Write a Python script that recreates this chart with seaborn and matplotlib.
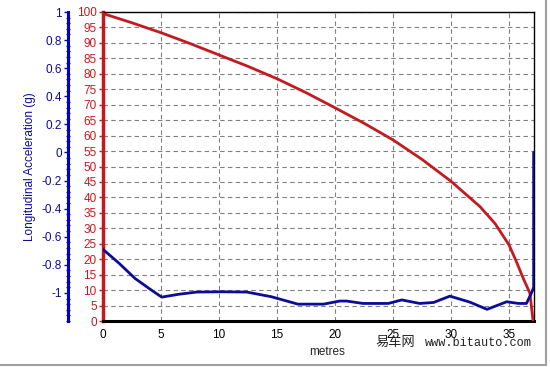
import matplotlib
matplotlib.use("Agg")
import matplotlib.pyplot as plt
from matplotlib.lines import Line2D
from matplotlib.ticker import MultipleLocator, AutoMinorLocator
import pandas as pd
import seaborn as sns

# speed trace (red, left inner axis 0-100)
speed_dist = [0, 2.5, 5, 7.5, 10, 12.5, 15, 17.5, 20, 22.5, 25, 27.5, 30,
              32.5, 33.8, 35, 35.6, 36.2, 36.8, 37.07]
speed = [99.5, 96.5, 93.3, 89.8, 86.1, 82.4, 78.4, 73.9, 69, 64, 58.6, 52.3,
         45.2, 37, 31.5, 24.6, 19.5, 14, 9, 0]

# longitudinal acceleration trace (blue, outer axis in g)
acc_dist = [0, 1.4, 2.76, 4.0, 5.06, 6.5, 8.07, 10.2, 12.4, 14.5, 16.8, 19.0,
            20.4, 21.0, 22.4, 24.6, 25.75, 27.3, 28.5, 29.9, 31.6, 33.1, 34.8,
            35.8, 36.5, 36.95, 37.12, 37.12]
acc_g = [-0.69, -0.79, -0.897, -0.97, -1.03, -1.01, -0.994, -0.992, -0.994,
         -1.027, -1.08, -1.08, -1.058, -1.058, -1.075, -1.075, -1.05, -1.075,
         -1.068, -1.023, -1.065, -1.117, -1.063, -1.075, -1.075, -0.997, -0.96,
         0.0]

speed_df = pd.DataFrame({"metres": speed_dist, "speed": speed})
acc_df = pd.DataFrame({"metres": acc_dist, "acc": acc_g})

sns.set_style("white")
plt.rcParams["font.family"] = ["Liberation Sans", "DejaVu Sans"]

red = "#c41a1f"
navy = "#0c0c96"
blue_spine = "#0000c8"

fig = plt.figure(figsize=(5.5, 3.67), dpi=100)
ax = fig.add_axes([103 / 550, 1 - 321 / 367, 431 / 550, 309 / 367])

sns.lineplot(data=speed_df, x="metres", y="speed", ax=ax, color=red,
             linewidth=2, estimator=None, sort=False, zorder=3)

ax.set_xlim(0, 37.15)
ax.set_ylim(0, 100)
ax.xaxis.set_major_locator(MultipleLocator(5))
ax.xaxis.set_minor_locator(MultipleLocator(1))
ax.yaxis.set_major_locator(MultipleLocator(5))
ax.grid(True, which="major", color="#808080", linestyle=(0, (4, 3)), linewidth=0.8)
ax.set_axisbelow(True)

ax.tick_params(axis="y", colors=red, labelsize=8.5, length=3, width=1,
               direction="out", pad=1.5)
ax.tick_params(axis="x", colors="black", labelcolor="black", labelsize=8.5,
               length=3.5, width=1, direction="out", pad=2)
ax.tick_params(axis="x", which="minor", length=2.5, width=1, direction="out",
               colors="black")
ax.set_xlabel("metres", fontsize=8.5, labelpad=1)
ax.xaxis.set_label_coords(0.52, -0.08)
ax.set_ylabel("")

for side in ["top", "right"]:
    ax.spines[side].set_visible(True)
    ax.spines[side].set_color("black")
    ax.spines[side].set_linewidth(1)
ax.spines["bottom"].set_color("black")
ax.spines["bottom"].set_linewidth(2.2)
ax.spines["left"].set_color(red)
ax.spines["left"].set_linewidth(2.5)

# outer acceleration axis
ax2 = ax.twinx()
sns.lineplot(data=acc_df, x="metres", y="acc", ax=ax2, color=navy,
             linewidth=2, estimator=None, sort=False, zorder=4)
ax2.set_ylim(-1.2, 1.0)
ax2.set_xlim(0, 37.15)
ax2.yaxis.set_label_position("left")
ax2.yaxis.set_ticks_position("left")
ax2.spines["left"].set_visible(True)
ax2.spines["left"].set_position(("axes", -35 / 431))
ax2.spines["left"].set_color(blue_spine)
ax2.spines["left"].set_linewidth(2.2)
for side in ["top", "right", "bottom"]:
    ax2.spines[side].set_visible(False)
ax2.set_yticks([1, 0.8, 0.6, 0.4, 0.2, 0, -0.2, -0.4, -0.6, -0.8, -1])
ax2.set_yticklabels(["1", "0.8", "0.6", "0.4", "0.2", "0", "-0.2", "-0.4",
                     "-0.6", "-0.8", "-1"])
ax2.yaxis.set_minor_locator(AutoMinorLocator(5))
ax2.tick_params(axis="y", which="major", colors=blue_spine, labelcolor=navy,
                labelsize=8.5, length=3, width=1, direction="out", pad=1.5)
ax2.tick_params(axis="y", which="minor", colors=blue_spine, length=2.5,
                width=1, direction="inout")
ax2.set_ylabel("Longitudinal Acceleration (g)", color=navy, fontsize=8.5,
               labelpad=4)

# watermark
fig.text(0.682, 0.066, "易车网", fontsize=9.5, va="center",
         family=["Noto Sans CJK SC", "DejaVu Sans"], color="#222222")
fig.text(0.773, 0.066, "www.bitauto.com", fontsize=8.6, va="center",
         family=["Liberation Mono", "DejaVu Sans Mono"], color="#222222")

# grey frame of the screenshot
fig.add_artist(Line2D([0, 546 / 550], [1 - 365 / 367, 1 - 365 / 367],
                      color="#a0a0a0", linewidth=1.5))
fig.add_artist(Line2D([546 / 550, 546 / 550], [1 - 365 / 367, 1],
                      color="#a0a0a0", linewidth=1.5))

fig.savefig("out.png", dpi=100)
plt.close(fig)
